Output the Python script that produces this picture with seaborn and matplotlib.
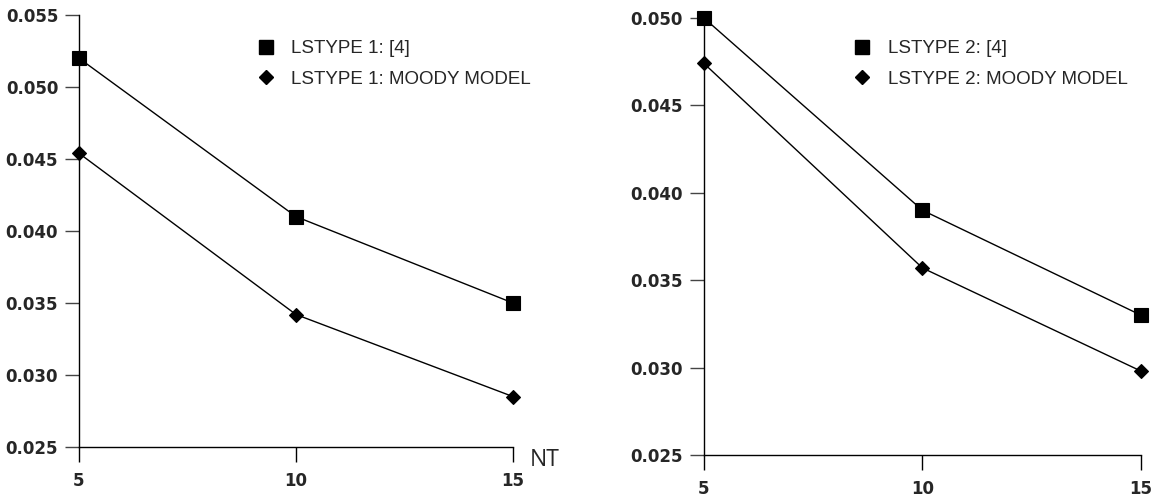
import pandas as pd
import matplotlib.pyplot as plt
from matplotlib.lines import Line2D
import seaborn as sns

# -----------------------------
# Data
# -----------------------------
NT = [5, 10, 15]

LST1_REF = [0.052, 0.041, 0.035]
LST1_MOODY = [0.0454, 0.0342, 0.0285]

LST2_REF = [0.050, 0.039, 0.033]
LST2_MOODY = [0.0474, 0.0357, 0.0298]

LEFT_YTICKS = [0.025, 0.030, 0.035, 0.040, 0.045, 0.050, 0.055]
RIGHT_YTICKS = [0.025, 0.030, 0.035, 0.040, 0.045, 0.050]

# -----------------------------
# Style
# -----------------------------
sns.set_style("ticks")
plt.rcParams['font.family'] = ['DejaVu Sans']


def style_axis(ax, yticks):
    """Open axes with long outward ticks and bold labels"""
    ax.set_xlim(5, 15)
    ax.set_ylim(yticks[0], yticks[-1])
    ax.set_xticks(NT)
    ax.set_yticks(yticks)
    ax.set_xticklabels([str(v) for v in NT], fontweight='bold', fontsize=12)
    ax.set_yticklabels([f"{v:.3f}" for v in yticks], fontweight='bold', fontsize=12)
    ax.tick_params(axis='y', length=10, width=1, color='#444444', pad=5)
    ax.tick_params(axis='x', length=11, width=1, color='black', pad=7)
    for side in ['top', 'right']:
        ax.spines[side].set_visible(False)
    for side in ['left', 'bottom']:
        ax.spines[side].set_color('black')
        ax.spines[side].set_linewidth(1.0)
    ax.set_xlabel("")
    ax.set_ylabel("")


def draw_panel(ax, ref, moody, lstype):
    df = pd.DataFrame({'NT': NT, 'ref': ref, 'moody': moody})
    sns.lineplot(data=df, x='NT', y='ref', color='black', lw=1, marker='s',
                 markersize=10, markeredgewidth=0.8, markeredgecolor='black',
                 clip_on=False, zorder=5, ax=ax)
    sns.lineplot(data=df, x='NT', y='moody', color='black', lw=1, marker='D',
                 markersize=6.8, markeredgewidth=0.8, markeredgecolor='black',
                 clip_on=False, zorder=5, ax=ax)
    handles = [
        Line2D([], [], ls='none', marker='s', color='black', markersize=9.5),
        Line2D([], [], ls='none', marker='D', color='black', markersize=7),
    ]
    labels = [f"LSTYPE {lstype}: [4]", f"LSTYPE {lstype}: MOODY MODEL"]
    return handles, labels


# -----------------------------
# Figure
# -----------------------------
fig = plt.figure(figsize=(11.58, 5), dpi=100)
ax1 = fig.add_axes([0.0682, 0.106, 0.3748, 0.864])
ax2 = fig.add_axes([0.6079, 0.090, 0.3774, 0.874])

h1, l1 = draw_panel(ax1, LST1_REF, LST1_MOODY, 1)
h2, l2 = draw_panel(ax2, LST2_REF, LST2_MOODY, 2)
style_axis(ax1, LEFT_YTICKS)
style_axis(ax2, RIGHT_YTICKS)

leg_kw = dict(frameon=False, loc='upper left', borderpad=0, borderaxespad=0,
              handlelength=1.0, handletextpad=0.85, labelspacing=0.72,
              prop={'family': 'Liberation Sans', 'size': 13.5},
              bbox_transform=fig.transFigure)
ax1.legend(h1, l1, bbox_to_anchor=(0.2215, 0.92), **leg_kw)
ax2.legend(h2, l2, bbox_to_anchor=(0.7365, 0.92), **leg_kw)

ax1.text(1.039, -0.03, "NT", transform=ax1.transAxes, ha='left', va='center',
         fontsize=16.5, family='Open Sans')

fig.savefig("out.png", dpi=100)
